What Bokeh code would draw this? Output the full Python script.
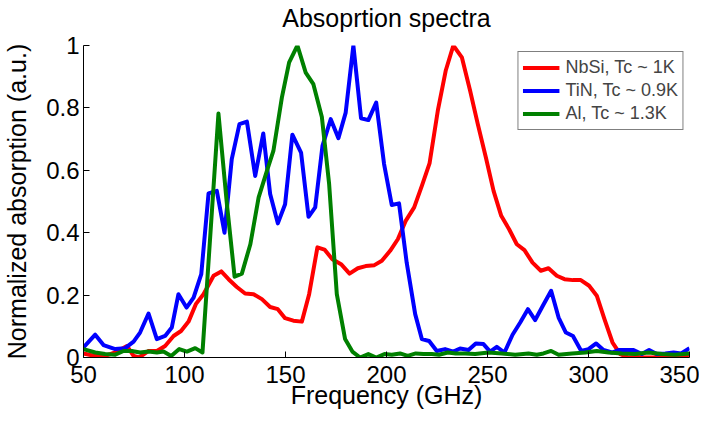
from bokeh.plotting import figure
from bokeh.models import FixedTicker, CustomJSTickFormatter, Legend, LegendItem, LinearAxis
from bokeh.embed import file_html
from bokeh.resources import INLINE

# ---- data ----
nbsi_freq = [50, 55.8, 60.7, 65.7, 71.5, 74.8, 77.6, 82.2, 86.3, 90.4, 94.6, 98.3, 102, 105.6, 109.4,
             114.4, 118.2, 121.8, 125.9, 130, 134.2, 138.3, 142.4, 146.2, 149.8, 153.9, 158.1, 161.7,
             165.8, 169.3, 173.2, 177.5, 181.7, 185.8, 189.7, 194, 197.7, 201.8, 205.6, 209.5, 213.7,
             217.5, 221.3, 225.4, 229.3, 233.1, 237.3, 241.4, 245.2, 249.2, 253, 256.8, 260.7, 264.5,
             268.3, 272.3, 276.4, 280.2, 284.3, 288.1, 292.3, 296.2, 300.3, 304.1, 307.9, 311.9, 315.7,
             319.8, 324, 328, 332.2, 336.3, 340.4, 344.6, 350]
nbsi_abs = [0.013, 0.005, 0.005, 0.016, 0.037, 0.005, 0, 0.021, 0.021, 0.037, 0.069, 0.085, 0.115,
            0.171, 0.203, 0.262, 0.276, 0.251, 0.226, 0.205, 0.203, 0.187, 0.162, 0.155, 0.126, 0.118,
            0.115, 0.203, 0.353, 0.346, 0.315, 0.299, 0.269, 0.286, 0.293, 0.296, 0.31, 0.342, 0.379,
            0.438, 0.481, 0.55, 0.622, 0.791, 0.919, 1.0, 0.962, 0.855, 0.748, 0.641, 0.534, 0.454,
            0.411, 0.363, 0.344, 0.304, 0.278, 0.286, 0.262, 0.251, 0.248, 0.248, 0.23, 0.198, 0.123,
            0.048, 0.011, 0, 0.002, 0, 0, 0.005, 0.002, 0.005, 0.009]

tin_freq = [50, 55.8, 59.9, 65.7, 70.6, 74.8, 78, 82.2, 86.3, 90.4, 93.7, 97, 101, 104.5, 108.3,
            111.9, 116, 119.8, 123.4, 127.2, 130.9, 135, 139, 142.4, 146.2, 149.8, 153.4, 157.7,
            161.4, 164.7, 168.3, 172.4, 176.2, 179.8, 183.6, 187.4, 191, 194.9, 198.8, 202.6, 206.2,
            210, 214.2, 217.5, 221.1, 224.9, 229, 233.1, 236.4, 240.6, 244.2, 248, 251.3, 254.6,
            258.4, 262.4, 266.2, 270, 273.6, 277.4, 281.5, 285.2, 288.8, 292.3, 296.4, 300, 303.8,
            307.4, 311.6, 314.9, 319, 322.3, 326.4, 330, 333.8, 338, 342.1, 345.9, 350]
tin_abs = [0.032, 0.073, 0.04, 0.027, 0.03, 0.051, 0.08, 0.141, 0.059, 0.069, 0.096, 0.203, 0.16,
           0.192, 0.267, 0.526, 0.534, 0.40, 0.636, 0.748, 0.756, 0.582, 0.718, 0.524, 0.43, 0.491,
           0.714, 0.657, 0.451, 0.481, 0.678, 0.764, 0.703, 0.785, 1.0, 0.767, 0.761, 0.817, 0.62,
           0.489, 0.494, 0.304, 0.139, 0.059, 0.053, 0.021, 0.027, 0.019, 0.029, 0.024, 0.045, 0.043,
           0.019, 0.034, 0.016, 0.073, 0.112, 0.155, 0.12, 0.166, 0.214, 0.128, 0.08, 0.069, 0.021,
           0.027, 0.045, 0.024, 0.016, 0.024, 0.024, 0.024, 0.011, 0.024, 0.011, 0.013, 0.016, 0.013,
           0.03]

al_freq = [50, 55.8, 60.7, 65.7, 69.8, 73.9, 78, 82.2, 86.3, 89.6, 93.4, 97.4, 101.2, 105.3, 108.9,
           116.8, 121, 124.8, 128.4, 132.6, 136.7, 140.8, 144, 148.2, 151.8, 155.9, 160, 163.8,
           168, 171.6, 175.4, 179.5, 183.1, 186.9, 191, 194.9, 199, 202.6, 206.7, 210.5, 214.5, 218.3,
           222.4, 226, 230.3, 234.3, 238.9, 243.9, 250.5, 257.1, 263.7, 270.3, 274.4, 277.7, 281.5,
           285.2, 291.8, 298.4, 304.1, 309.9, 316.5, 323.1, 329.7, 336.3, 342.9, 350]
al_abs = [0.027, 0.016, 0.011, 0.009, 0.021, 0.021, 0.016, 0.019, 0.016, 0.019, 0.005, 0.027, 0.019,
          0.03, 0.016, 0.782, 0.491, 0.259, 0.269, 0.363, 0.513, 0.598, 0.662, 0.833, 0.946, 1.0,
          0.913, 0.876, 0.771, 0.556, 0.203, 0.059, 0.019, 0, 0.011, 0, 0.011, 0.009, 0.013, 0.005,
          0.013, 0.011, 0.011, 0.009, 0.016, 0.013, 0.013, 0.011, 0.016, 0.013, 0.009, 0.013, 0.009,
          0.013, 0.021, 0.009, 0.013, 0.016, 0.021, 0.016, 0.013, 0.011, 0.016, 0.011, 0.009, 0.013]

series_labels = ["NbSi, Tc ~ 1K", "TiN, Tc ~ 0.9K", "Al, Tc ~ 1.3K"]
series_colors = ["#ff0000", "#0000ff", "#008000"]
x_ticks = [50, 100, 150, 200, 250, 300, 350]
y_ticks = [0, 0.2, 0.4, 0.6, 0.8, 1]
title_text = "Absoprtion spectra"

FONT = "Liberation Sans"

p = figure(frame_width=606, frame_height=312, x_range=(50, 350), y_range=(0, 1),
           output_backend="svg", toolbar_location=None,
           min_border_left=82, min_border_right=10, min_border_top=45, min_border_bottom=10)

p.outline_line_color = None
p.xgrid.visible = False
p.ygrid.visible = False

renderers = []
for fx, fy, c in [(nbsi_freq, nbsi_abs, series_colors[0]),
                  (tin_freq, tin_abs, series_colors[1]),
                  (al_freq, al_abs, series_colors[2])]:
    r = p.line(fx, fy, line_color=c, line_width=4, line_join="round")
    renderers.append(r)

for ax in (p.xaxis[0], p.yaxis[0]):
    ax.axis_line_color = "black"
    ax.major_tick_line_color = "black"
    ax.major_tick_in = 6
    ax.major_tick_out = 0
    ax.minor_tick_line_color = None
    ax.major_label_text_font = FONT
    ax.major_label_text_font_size = "24px"
    ax.major_label_text_color = "black"
    ax.axis_label_text_font = FONT
    ax.axis_label_text_font_size = "25px"
    ax.axis_label_text_font_style = "normal"
    ax.axis_label_text_color = "black"

p.xaxis.ticker = FixedTicker(ticks=x_ticks)
p.yaxis.ticker = FixedTicker(ticks=y_ticks)
p.yaxis.formatter = CustomJSTickFormatter(code="return String(tick);")
p.xaxis.axis_label = "Frequency (GHz)"
p.yaxis.axis_label = "Normalized absorption (a.u.)"
p.xaxis.major_label_standoff = 8
p.yaxis.major_label_standoff = 4
p.xaxis.axis_label_standoff = -5
p.yaxis.axis_label_standoff = 12

# title: an undecorated axis above the frame carrying the title as its label
title_axis = LinearAxis(axis_label=title_text, ticker=FixedTicker(ticks=[]),
                        axis_line_color=None, major_tick_line_color=None,
                        minor_tick_line_color=None, major_tick_in=0, major_tick_out=0,
                        minor_tick_in=0, minor_tick_out=0, major_label_standoff=0,
                        axis_label_standoff=14, axis_label_text_font=FONT,
                        axis_label_text_font_size="25px", axis_label_text_font_style="normal",
                        axis_label_text_color="black")
p.add_layout(title_axis, "above")

legend = Legend(items=[LegendItem(label=l, renderers=[r]) for l, r in zip(series_labels, renderers)],
                location="top_right", margin=6, padding=4, spacing=0,
                glyph_width=37, glyph_height=23, label_height=23, label_standoff=6,
                label_text_font=FONT, label_text_font_size="18px",
                border_line_color="black", border_line_width=1,
                background_fill_color="white", background_fill_alpha=1)
p.add_layout(legend)

open("out.html", "w").write(file_html(p, INLINE))
